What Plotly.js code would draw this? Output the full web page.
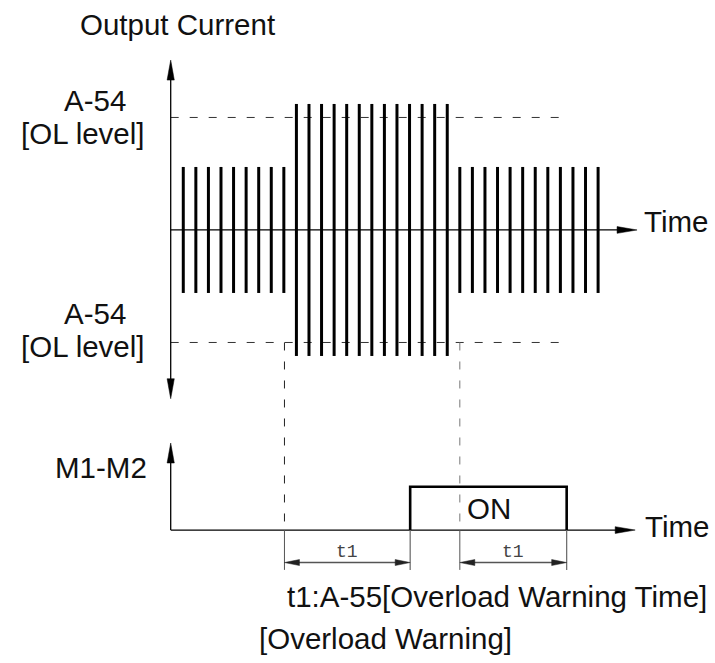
<!DOCTYPE html>
<html><head><meta charset="utf-8">
<script src="https://cdn.plot.ly/plotly-3.0.1.min.js"></script>
<style>html,body{margin:0;padding:0;background:#fff}</style>
</head><body><div id="chart" style="width:715px;height:663px"></div>
<script>
// ---------------- data ----------------
// time is measured in pulse periods from the vertical axis
const pulseTime = [1,2,3,4,5,6,7,8,9,10,11,12,13,14,15,16,17,18,19,20,21,22,23,24,25,26,27,28,29,30,31,32,33,34];
// output current amplitude, in units of the OL level (A-54 = 1)
const pulseAmp  = [0.56,0.56,0.56,0.56,0.56,0.56,0.56,0.56,0.56,
                   1.12,1.12,1.12,1.12,1.12,1.12,1.12,1.12,1.12,1.12,1.12,1.12,1.12,
                   0.56,0.56,0.56,0.56,0.56,0.56,0.56,0.56,0.56,0.56,0.56,0.56];
const olLevel = [1.0, -1.0];
const olGuideTime = [0, 31.0];
// overload start / end (time) and M1-M2 relay output
const overloadTimes = [9.05, 23.0];
const relayTime  = [19.05, 19.05, 31.5, 31.5];
const relayState = [0, 1, 1, 0];
const t1Spans = [[9.05, 19.05], [23.0, 31.5]];
const t1Labels = ['t1', 't1'];
const axisEndTop = 37.1, axisEndBot = 36.95;
const topAxisV = [1.51, -1.50];     // current axis extent
const botAxisTop = 2.01;            // relay axis extent
const dimLevel = -0.75, extBottom = -0.92;

// ---------------- geometry of the frame ----------------
const W = 715, H = 663;
const xR = [-13.58, 43.30];
const yTopR = [-3.849, 2.044];
const yBotR = [-3.07, 12.24];
const xPx = t => (t - xR[0]) / (xR[1] - xR[0]) * W;
const yTopPx = v => (yTopR[1] - v) / (yTopR[1] - yTopR[0]) * H;
const yBotPx = v => (yBotR[1] - v) / (yBotR[1] - yBotR[0]) * H;
const px = p => p / W, py = p => 1 - p / H;

// ---------------- traces ----------------
const barX = [], barY = [];
pulseTime.forEach((t, i) => { barX.push(t, t, null); barY.push(-pulseAmp[i], pulseAmp[i], null); });

const traces = [];
olLevel.forEach(l => traces.push({
  x: olGuideTime, y: [l, l], mode: 'lines', hoverinfo: 'skip',
  line: {color: '#333', width: 1, dash: '8px,11px'}
}));
traces.push({x: barX, y: barY, mode: 'lines', hoverinfo: 'skip', connectgaps: false,
  line: {color: '#000', width: 3}});
traces.push({x: relayTime, y: relayState, yaxis: 'y2', mode: 'lines', hoverinfo: 'skip',
  line: {color: '#000', width: 2.6}});

// ---------------- decorations ----------------
const shapes = [];
function line(x0, y0, x1, y1, color, width, dash) {
  shapes.push({type: 'line', xref: 'paper', yref: 'paper', x0: px(x0), y0: py(y0), x1: px(x1), y1: py(y1),
    line: {color: color, width: width, dash: dash || 'solid'}});
}
function arrow(tx, ty, dx, dy, len, hw, color) {
  const bx = tx - dx * len, by = ty - dy * len;
  const nx = -dy, ny = dx;
  const pts = [[tx, ty], [bx + nx * hw, by + ny * hw], [bx - nx * hw, by - ny * hw]];
  shapes.push({type: 'path', xref: 'paper', yref: 'paper',
    path: 'M' + pts.map(p => px(p[0]) + ',' + py(p[1])).join(' L') + ' Z',
    fillcolor: color, line: {color: color, width: 0.5}});
}
const x0 = xPx(0);
line(x0, yTopPx(topAxisV[0]) + 10, x0, yTopPx(topAxisV[1]) - 10, '#000', 1.3);
arrow(x0, yTopPx(topAxisV[0]), 0, -1, 20, 3.6, '#000');
arrow(x0, yTopPx(topAxisV[1]), 0, 1, 20, 3.6, '#000');
line(x0, yTopPx(0), xPx(axisEndTop) - 10, yTopPx(0), '#000', 1.3);
arrow(xPx(axisEndTop), yTopPx(0), 1, 0, 20, 3.4, '#000');
line(x0, yBotPx(botAxisTop) + 10, x0, yBotPx(0), '#000', 1.3);
arrow(x0, yBotPx(botAxisTop), 0, -1, 20, 3.6, '#000');
line(x0, yBotPx(0), xPx(axisEndBot) - 10, yBotPx(0), '#000', 1.3);
arrow(xPx(axisEndBot), yBotPx(0), 1, 0, 20, 3.4, '#000');
overloadTimes.forEach((t, i) => {
  const c = i === 0 ? '#222' : '#777';
  line(xPx(t), yTopPx(olLevel[1]), xPx(t), yBotPx(0), c, 1, '8px,11px');
  line(xPx(t), yBotPx(0), xPx(t), yBotPx(extBottom), '#555', 1);
});
[relayTime[0], relayTime[3]].forEach(t => line(xPx(t), yBotPx(0), xPx(t), yBotPx(extBottom), '#666', 1.2));
t1Spans.forEach(s => {
  const a = xPx(s[0]), b = xPx(s[1]), y = yBotPx(dimLevel);
  line(a + 12, y, b - 12, y, '#555', 1.6);
  arrow(a, y, -1, 0, 15, 3, '#222');
  arrow(b, y, 1, 0, 15, 3, '#222');
});

// ---------------- text ----------------
const F = {family: 'Liberation Sans, Arial, sans-serif', size: 29.5, color: '#111'};
const ann = [];
function text(t, x, y, font) {
  ann.push({text: t, xref: 'paper', yref: 'paper', x: px(x), y: py(y), xanchor: 'center', yanchor: 'middle',
    showarrow: false, font: font || F});
}
text('Output Current', 177, 25);
text('A-54', 95, 100);
text('[OL level]', 83, 134);
text('A-54', 95, 313);
text('[OL level]', 83, 346);
text('M1-M2', 101, 467);
text('ON', 489, 508);
text('Time', 676, 222);
text('Time', 677, 526);
text('t1:A-55[Overload Warning Time]', 497, 596);
text('[Overload Warning]', 385, 638);
t1Spans.forEach((s, i) => text(t1Labels[i], (xPx(s[0]) + xPx(s[1])) / 2, 551.5,
  {family: 'Liberation Mono, DejaVu Sans Mono, monospace', size: 18, color: '#444'}));

const layout = {
  width: W, height: H, autosize: false, showlegend: false,
  margin: {l: 0, r: 0, t: 0, b: 0, pad: 0},
  paper_bgcolor: '#fff', plot_bgcolor: '#fff',
  xaxis: {range: xR, visible: false, fixedrange: true},
  yaxis: {range: yTopR, visible: false, fixedrange: true},
  yaxis2: {range: yBotR, visible: false, overlaying: 'y', fixedrange: true},
  shapes: shapes, annotations: ann
};
Plotly.newPlot('chart', traces, layout, {staticPlot: true, displayModeBar: false});
</script></body></html>
